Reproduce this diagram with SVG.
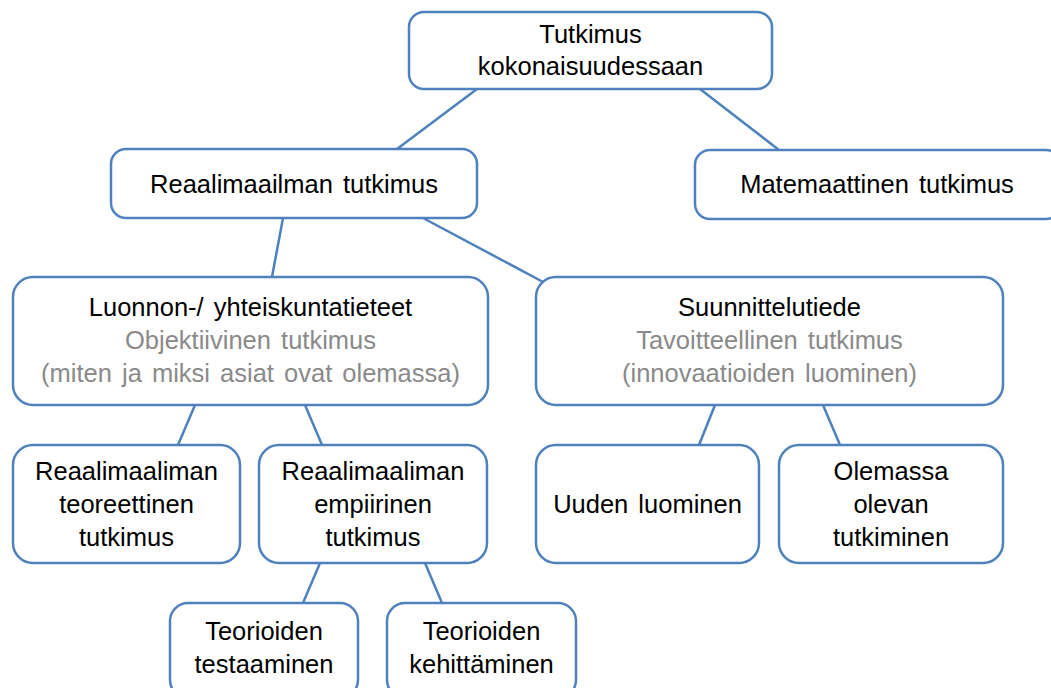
<svg xmlns="http://www.w3.org/2000/svg" width="1051" height="688" viewBox="0 0 1051 688">
  <style>
    .box { fill: #ffffff; stroke: #4f81bd; stroke-width: 2.5; }
    .link { stroke: #4f81bd; stroke-width: 2.5; fill: none; }
    text { font-family: "Liberation Sans", Arial, sans-serif; font-size: 25.5px; word-spacing: 3px; fill: #000000; text-anchor: middle; }
    .sub { fill: #8a8a8a; }
  </style>
  <rect width="1051" height="688" fill="#ffffff"/>

  <g id="connectors">
    <line class="link" x1="477" y1="89" x2="397" y2="149"/>
    <line class="link" x1="700" y1="89" x2="779" y2="150"/>
    <line class="link" x1="283" y1="218" x2="272" y2="277"/>
    <line class="link" x1="423" y1="218" x2="545" y2="283"/>
    <line class="link" x1="195" y1="405" x2="178" y2="445"/>
    <line class="link" x1="305" y1="405" x2="322" y2="445"/>
    <line class="link" x1="715" y1="405" x2="699" y2="445"/>
    <line class="link" x1="823" y1="405" x2="840" y2="445"/>
    <line class="link" x1="320" y1="563" x2="303" y2="603"/>
    <line class="link" x1="425" y1="563" x2="442" y2="603"/>
  </g>

  <g id="node-kokonaisuus">
    <rect class="box" x="409" y="12" width="363" height="77" rx="15"/>
    <text x="590.5" y="43">Tutkimus</text>
    <text x="590.5" y="75">kokonaisuudessaan</text>
  </g>

  <g id="node-reaalimaailma">
    <rect class="box" x="111" y="149" width="366" height="69" rx="15"/>
    <text x="294" y="193">Reaalimaailman tutkimus</text>
  </g>

  <g id="node-matemaattinen">
    <rect class="box" x="695" y="150" width="366" height="69" rx="15"/>
    <text x="877" y="193">Matemaattinen tutkimus</text>
  </g>

  <g id="node-luonnontieteet">
    <rect class="box" x="13" y="277" width="475" height="128" rx="20"/>
    <text x="250.5" y="316">Luonnon-/ yhteiskuntatieteet</text>
    <text class="sub" x="250.5" y="349">Objektiivinen tutkimus</text>
    <text class="sub" x="250.5" y="382">(miten ja miksi asiat ovat olemassa)</text>
  </g>

  <g id="node-suunnittelutiede">
    <rect class="box" x="536" y="277" width="467" height="128" rx="20"/>
    <text x="769.5" y="316">Suunnittelutiede</text>
    <text class="sub" x="769.5" y="349">Tavoitteellinen tutkimus</text>
    <text class="sub" x="769.5" y="382">(innovaatioiden luominen)</text>
  </g>

  <g id="node-teoreettinen">
    <rect class="box" x="13" y="445" width="227" height="118" rx="20"/>
    <text x="126.5" y="480">Reaalimaaliman</text>
    <text x="126.5" y="513">teoreettinen</text>
    <text x="126.5" y="546">tutkimus</text>
  </g>

  <g id="node-empiirinen">
    <rect class="box" x="259" y="445" width="228" height="118" rx="20"/>
    <text x="373" y="480">Reaalimaaliman</text>
    <text x="373" y="513">empiirinen</text>
    <text x="373" y="546">tutkimus</text>
  </g>

  <g id="node-uuden-luominen">
    <rect class="box" x="536" y="445" width="223" height="118" rx="20"/>
    <text x="647.5" y="513">Uuden luominen</text>
  </g>

  <g id="node-olemassa-oleva">
    <rect class="box" x="779" y="445" width="224" height="118" rx="20"/>
    <text x="891" y="480">Olemassa</text>
    <text x="891" y="513">olevan</text>
    <text x="891" y="546">tutkiminen</text>
  </g>

  <g id="node-testaaminen">
    <rect class="box" x="170" y="603" width="188" height="95" rx="18"/>
    <text x="264" y="640">Teorioiden</text>
    <text x="264" y="673">testaaminen</text>
  </g>

  <g id="node-kehittaminen">
    <rect class="box" x="387" y="603" width="189" height="95" rx="18"/>
    <text x="481.5" y="640">Teorioiden</text>
    <text x="481.5" y="673">kehittäminen</text>
  </g>
</svg>
